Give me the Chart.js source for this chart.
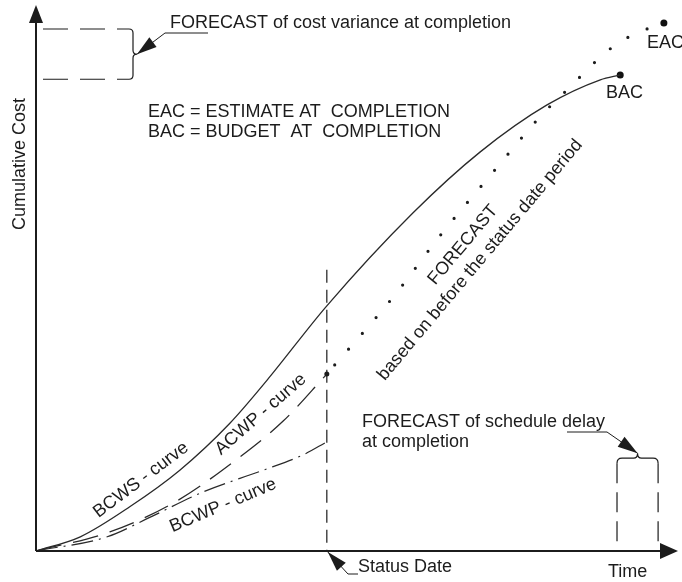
<!DOCTYPE html>
<html>
<head>
<meta charset="utf-8">
<script src="https://cdn.jsdelivr.net/npm/chart.js@4/dist/chart.umd.min.js"></script>
<style>
  html, body { margin: 0; padding: 0; background: #fff; }
  canvas { display: block; }
</style>
</head>
<body>
<canvas id="myChart" width="682" height="582"></canvas>
<script>
// time runs 0..100, cumulative cost 0..100
const bcwsTime = [0, 6.9, 14.6, 22.4, 30.2, 36, 45.3, 58.7, 69.2, 79.6, 87.9, 91];
const bcwsCost = [0, 2.6, 8.1, 14.8, 23.4, 31.3, 44.9, 61.9, 73.1, 81.7, 86.3, 87.2];
const acwpTime = [0, 11.5, 21.7, 31.5, 38.5, 45.3];
const acwpCost = [0, 3.5, 9, 17, 23.8, 32.4];
const bcwpTime = [0, 11.1, 17.8, 26, 35.4, 41.6, 45.3];
const bcwpCost = [0, 2.6, 6.2, 10.8, 14.8, 17.6, 20];
const forecastTime = [45.3, 55.9, 62.9, 71.2, 78.8, 83.2, 87.4, 90.5, 94.1, 97.8];
const forecastCost = [32.4, 46.9, 57.7, 69.4, 79.9, 85, 89.9, 92.9, 95.1, 96.7];
const statusDate = 45.3;
const bacPoint = [91, 87.2];
const eacPoint = [97.8, 96.7];
const costVariance = [86.4, 95.6];   // levels of the dashed bracket, top left
const scheduleDelay = [90.5, 96.9];  // times of the dashed bracket, bottom right

const pts = (xs, ys) => xs.map((x, i) => ({ x: x, y: ys[i] }));
const FONT = '18px "Liberation Sans", Arial, sans-serif';
const INK = '#1c1c1c';

function arrowHead(ctx, fx, fy, tx, ty, len, half) {
  const a = Math.atan2(ty - fy, tx - fx);
  const c = Math.cos(a), s = Math.sin(a);
  ctx.beginPath();
  ctx.moveTo(tx, ty);
  ctx.lineTo(tx - len * c + half * s, ty - len * s - half * c);
  ctx.lineTo(tx - len * c - half * s, ty - len * s + half * c);
  ctx.closePath();
  ctx.fill();
}

function leader(ctx, path) {
  ctx.beginPath();
  ctx.moveTo(path[0][0], path[0][1]);
  for (let i = 1; i < path.length; i++) ctx.lineTo(path[i][0], path[i][1]);
  ctx.stroke();
  const n = path.length;
  arrowHead(ctx, path[n - 2][0], path[n - 2][1], path[n - 1][0], path[n - 1][1], 20, 6);
}

function rotText(ctx, txt, x, y, deg, baseline) {
  ctx.save();
  ctx.translate(x, y);
  ctx.rotate(deg * Math.PI / 180);
  ctx.textAlign = 'center';
  ctx.textBaseline = baseline || 'alphabetic';
  ctx.fillText(txt, 0, 0);
  ctx.restore();
}

const decor = {
  id: 'decor',
  afterDraw(chart) {
    const ctx = chart.ctx;
    const xs = chart.scales.x, ys = chart.scales.y;
    const left = xs.getPixelForValue(0), bottom = ys.getPixelForValue(0);
    ctx.save();
    ctx.strokeStyle = INK;
    ctx.fillStyle = INK;

    // axes with arrows
    ctx.lineWidth = 2;
    ctx.beginPath();
    ctx.moveTo(left, bottom);
    ctx.lineTo(left, 20);
    ctx.moveTo(left, bottom);
    ctx.lineTo(662, bottom);
    ctx.stroke();
    arrowHead(ctx, left, bottom, left, 5, 18, 7);
    arrowHead(ctx, left, bottom, 678, bottom, 18, 8);

    // status date
    ctx.lineWidth = 1.2;
    const sx = xs.getPixelForValue(statusDate);
    ctx.setLineDash([13, 7]);
    ctx.beginPath();
    ctx.moveTo(sx, ys.getPixelForValue(51.5));
    ctx.lineTo(sx, bottom);
    ctx.stroke();

    // cost variance bracket
    const cTop = ys.getPixelForValue(costVariance[1]);
    const cBot = ys.getPixelForValue(costVariance[0]);
    const bx = left + 97;
    ctx.setLineDash([25, 12]);
    ctx.beginPath();
    ctx.moveTo(left + 7, cTop); ctx.lineTo(bx - 4, cTop);
    ctx.moveTo(left + 7, cBot); ctx.lineTo(bx - 4, cBot);
    ctx.stroke();
    ctx.setLineDash([]);
    const cMid = (cTop + cBot) / 2;
    ctx.beginPath();
    ctx.moveTo(bx - 4, cTop);
    ctx.quadraticCurveTo(bx, cTop, bx, cTop + 4);
    ctx.lineTo(bx, cMid - 4);
    ctx.quadraticCurveTo(bx, cMid, bx + 4, cMid);
    ctx.quadraticCurveTo(bx, cMid, bx, cMid + 4);
    ctx.lineTo(bx, cBot - 4);
    ctx.quadraticCurveTo(bx, cBot, bx - 4, cBot);
    ctx.stroke();

    // schedule delay bracket
    const xa = xs.getPixelForValue(scheduleDelay[0]);
    const xb = xs.getPixelForValue(scheduleDelay[1]);
    const top = ys.getPixelForValue(17);
    const xm = (xa + xb) / 2;
    ctx.beginPath();
    ctx.moveTo(xa, top + 5);
    ctx.quadraticCurveTo(xa, top, xa + 5, top);
    ctx.lineTo(xm - 4, top);
    ctx.quadraticCurveTo(xm, top, xm, top - 5);
    ctx.quadraticCurveTo(xm, top, xm + 4, top);
    ctx.lineTo(xb - 5, top);
    ctx.quadraticCurveTo(xb, top, xb, top + 5);
    ctx.stroke();
    ctx.setLineDash([20, 9]);
    ctx.beginPath();
    ctx.moveTo(xa, top + 5); ctx.lineTo(xa, bottom);
    ctx.moveTo(xb, top + 5); ctx.lineTo(xb, bottom);
    ctx.stroke();
    ctx.setLineDash([]);

    // leaders
    ctx.lineWidth = 1;
    leader(ctx, [[208, 33], [165, 33], [bx + 4, cMid]]);
    leader(ctx, [[567, 432], [607, 432], [xm, top - 5]]);
    leader(ctx, [[358, 574], [348, 574], [sx + 1, bottom + 1]]);

    // texts
    ctx.font = FONT;
    ctx.textAlign = 'left';
    ctx.textBaseline = 'alphabetic';
    ctx.fillText('FORECAST of cost variance at completion', 170, 28);
    ctx.fillText('EAC = ESTIMATE AT  COMPLETION', 148, 117);
    ctx.fillText('BAC = BUDGET  AT  COMPLETION', 148, 137);
    ctx.fillText('BAC', 606, 98);
    ctx.fillText('EAC', 647, 48);
    ctx.fillText('FORECAST of schedule delay', 362, 427);
    ctx.fillText('at completion', 362, 447);
    ctx.fillText('Status Date', 358, 572);
    ctx.fillText('Time', 608, 577);
    rotText(ctx, 'Cumulative Cost', 25, 164, -90);
    rotText(ctx, 'BCWS - curve', 144, 484, -37);
    rotText(ctx, 'ACWP - curve', 264, 418, -41);
    rotText(ctx, 'BCWP - curve', 225, 510, -23);
    rotText(ctx, 'FORECAST', 463, 245, -50, 'middle');
    rotText(ctx, 'based on before the status date period', 480, 260, -50, 'middle');
    ctx.restore();
  }
};

new Chart(document.getElementById('myChart'), {
  type: 'line',
  data: {
    datasets: [
      {
        label: 'BCWS',
        data: pts(bcwsTime, bcwsCost),
        borderColor: '#2a2a2a',
        borderWidth: 1.3,
        pointRadius: 0,
        cubicInterpolationMode: 'monotone'
      },
      {
        label: 'ACWP',
        data: pts(acwpTime, acwpCost),
        borderColor: '#2a2a2a',
        borderWidth: 1.3,
        borderDash: [26, 12],
        pointRadius: acwpTime.map((t, i) => i === acwpTime.length - 1 ? 2.5 : 0),
        pointBackgroundColor: '#1c1c1c',
        pointBorderWidth: 0,
        cubicInterpolationMode: 'monotone'
      },
      {
        label: 'BCWP',
        data: pts(bcwpTime, bcwpCost),
        borderColor: '#2a2a2a',
        borderWidth: 1.2,
        borderDash: [22, 6, 2, 6],
        pointRadius: 0,
        cubicInterpolationMode: 'monotone'
      },
      {
        label: 'Forecast',
        data: pts(forecastTime, forecastCost),
        borderColor: '#1c1c1c',
        borderWidth: 3.2,
        borderDash: [0, 21],
        borderDashOffset: -12,
        borderCapStyle: 'round',
        pointRadius: 0,
        cubicInterpolationMode: 'monotone'
      },
      {
        label: 'BAC / EAC',
        data: [{ x: bacPoint[0], y: bacPoint[1] }, { x: eacPoint[0], y: eacPoint[1] }],
        showLine: false,
        pointRadius: 3.5,
        pointBackgroundColor: '#111',
        pointBorderWidth: 0
      }
    ]
  },
  options: {
    responsive: false,
    animation: false,
    layout: { padding: { left: 36, right: 4, top: 5, bottom: 31 } },
    plugins: { legend: { display: false }, tooltip: { enabled: false } },
    elements: { line: { fill: false } },
    datasets: { line: { clip: false } },
    scales: {
      x: { type: 'linear', min: 0, max: 100, display: false },
      y: { type: 'linear', min: 0, max: 100, display: false }
    }
  },
  plugins: [decor]
});
</script>
</body>
</html>
